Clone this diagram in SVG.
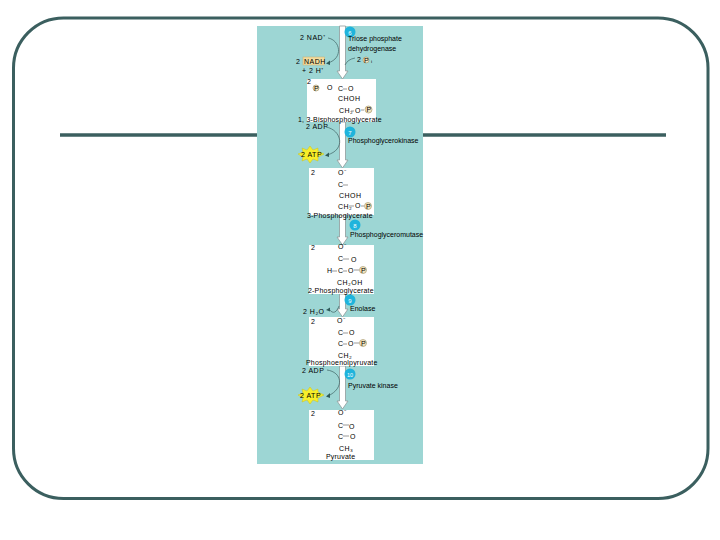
<svg xmlns="http://www.w3.org/2000/svg" width="720" height="540" viewBox="0 0 720 540">
<style>
text{font-family:"Liberation Sans",Arial,sans-serif;font-size:7px;fill:#000;letter-spacing:.5px}
text.enz{letter-spacing:0}
text.mol{letter-spacing:.2px}
.frame{fill:none;stroke:#3b5f5f;stroke-width:3}
.bar{stroke:#3b5f5f;stroke-width:3.5}
.box{fill:#fff}
.down{fill:#fff;stroke:#8f9a9a;stroke-width:.8}
.curve{fill:none;stroke:#4a7070;stroke-width:.8}
.head{fill:#2e5a5a}
.step{fill:#1fb4dc}
text.num{fill:#fff;font-size:6px;text-anchor:middle;letter-spacing:0}
.p{fill:#f4e6c0;stroke:#a89a70;stroke-width:.7}
.bond{stroke:#999;stroke-width:1}
.nadh{fill:#f3dc9e;stroke:#c9b478;stroke-width:.6}
.atp{fill:#f7ee2a;stroke:#c9c020;stroke-width:.5}
</style>
<rect class="frame" x="13.5" y="18" width="694.500" height="480.500" rx="50" ry="50"/>
<line class="bar" x1="60" y1="135" x2="257" y2="135"/>
<line class="bar" x1="423" y1="135" x2="666" y2="135"/>
<rect x="257" y="26" width="166" height="438" fill="#9dd6d4"/>
<g id="connectors">
<path class="down" d="M339.500 26V71H337L342.500 79L348 71H345.500V26Z"/>
<path class="down" d="M339.500 122V160H337L342.500 168L348 160H345.500V122Z"/>
<path class="down" d="M339.500 215V237H337L342.500 245L348 237H345.500V215Z"/>
<path class="down" d="M339.500 294V309H337L342.500 317L348 309H345.500V294Z"/>
<path class="down" d="M339.500 366V401H337L342.500 409L348 401H345.500V366Z"/>
<path class="curve" d="M328 38C340 40 344 58 328 63"/><path class="head" d="M326 63.500L330 60.500L330 65Z"/>
<path class="curve" d="M355 58C350 59 347 61 345 65"/>
<path class="curve" d="M326 127C342 130 346 150 327 155"/><path class="head" d="M325 155.500L329 152.500L329 157Z"/>
<path class="curve" d="M339 306C337 312 333 315 329 309"/><path class="head" d="M326 310L330 307.500L330 311.500Z"/>
<path class="curve" d="M327 370C342 372 345 388 328 396"/><path class="head" d="M326 396.500L330 393L330 398Z"/>
</g>
<g id="step6">
<circle class="step" cx="350" cy="32" r="5.500"/><text class="num" x="350" y="34.500">6</text>
<text class="enz" x="348" y="41">Triose phosphate</text>
<text class="enz" x="348" y="51">dehydrogenase</text>
<text x="300" y="40">2 NAD⁺</text>
<text x="296" y="64">2</text><rect class="nadh" x="303" y="57" width="21.500" height="8"/><text x="304" y="63.500">NADH</text>
<text x="302" y="73">+ 2 H⁺</text>
<text x="357" y="62">2</text><circle class="p" cx="366" cy="60" r="3"/><text x="364" y="62.500">P</text><text x="371" y="63">ᵢ</text>
</g>
<g id="bisphosphoglycerate">
<rect class="box" x="307" y="79" width="69" height="43"/>
<text x="307" y="84">2</text>
<circle class="p" cx="316" cy="88" r="3"/><text x="314" y="90.500">P</text><text x="327" y="90">O</text>
<text x="338" y="91">C</text><line class="bond" x1="343" y1="89" x2="347" y2="89"/><text x="348" y="91">O</text>
<text x="338" y="101">CHOH</text>
<text x="339" y="113">CH₂</text><line class="bond" x1="351" y1="111" x2="354" y2="111"/><text x="355" y="113">O</text><line class="bond" x1="361" y1="110" x2="364" y2="110"/>
<circle class="p" cx="368.500" cy="109.500" r="3.500"/><text x="366.500" y="112">P</text>
<text class="mol" x="298" y="122">1, 3-Bisphosphoglycerate</text>
</g>
<g id="step7">
<text x="306" y="129">2 ADP</text>
<circle class="step" cx="350" cy="132" r="5.500"/><text class="num" x="350" y="134.500">7</text>
<text class="enz" x="348" y="143">Phosphoglycerokinase</text>
<path class="atp" d="M298 154L303 152L302 148L307 150L310 146L313 150L318 148L318 151L324 154L318 157L318 161L313 159L310 163L307 159L302 161L303 157Z"/>
<text x="301" y="156.500">2 ATP</text>
</g>
<g id="phosphoglycerate3">
<rect class="box" x="309" y="168" width="65" height="47"/>
<text x="311" y="175">2</text>
<text x="338" y="175">O⁻</text>
<text x="338" y="187">C</text><line class="bond" x1="343" y1="185" x2="348" y2="185"/>
<text x="339" y="198">CHOH</text>
<text x="338" y="209">CH₂</text><line class="bond" x1="349" y1="206" x2="354" y2="206"/><text x="355" y="208">O</text><line class="bond" x1="361" y1="206" x2="364" y2="206"/>
<circle class="p" cx="368" cy="206" r="3.500"/><text x="366" y="208.500">P</text>
<text class="mol" x="307" y="218">3-Phosphoglycerate</text>
</g>
<g id="step8">
<circle class="step" cx="355" cy="225" r="5.500"/><text class="num" x="355" y="227.500">8</text>
<text class="enz" x="350" y="237">Phosphoglyceromutase</text>
</g>
<g id="phosphoglycerate2">
<rect class="box" x="309" y="245" width="65" height="49"/>
<text x="311" y="250">2</text>
<text x="338" y="249">O⁻</text>
<text x="338" y="261">C</text><line class="bond" x1="343" y1="259" x2="349" y2="259"/><text x="351" y="262">O</text>
<text x="327" y="273">H</text><line class="bond" x1="332" y1="271" x2="337" y2="271"/><text x="338" y="273">C</text><line class="bond" x1="343" y1="271" x2="347" y2="271"/><text x="348" y="273">O</text><line class="bond" x1="354" y1="270" x2="359" y2="270"/>
<circle class="p" cx="363" cy="270" r="3.500"/><text x="361" y="272.500">P</text>
<text x="337" y="285">CH₂OH</text>
<text class="mol" x="308" y="293">2-Phosphoglycerate</text>
</g>
<g id="step9">
<circle class="step" cx="350" cy="300" r="5.500"/><text class="num" x="350" y="302.500">9</text>
<text x="303" y="314">2 H₂O</text>
<text class="enz" x="350" y="311">Enolase</text>
</g>
<g id="phosphoenolpyruvate">
<rect class="box" x="309" y="317" width="65" height="49"/>
<text x="311" y="324">2</text>
<text x="337" y="323">O⁻</text>
<text x="338" y="335">C</text><line class="bond" x1="343" y1="333" x2="348" y2="333"/><text x="349" y="335">O</text>
<text x="338" y="346">C</text><line class="bond" x1="343" y1="344" x2="347" y2="344"/><text x="348" y="346">O</text><line class="bond" x1="354" y1="343" x2="359" y2="343"/>
<circle class="p" cx="363" cy="343" r="3.500"/><text x="361" y="345.500">P</text>
<text x="338" y="358">CH₂</text>
<text class="mol" x="306" y="365">Phosphoenolpyruvate</text>
</g>
<g id="step10">
<text x="302" y="373">2 ADP</text>
<circle class="step" cx="350" cy="374" r="5.500"/><text class="num" x="350" y="376.500" style="font-size:5.500px">10</text>
<text class="enz" x="348" y="388">Pyruvate kinase</text>
<path class="atp" d="M298 395L303 393L302 389L307 391L310 387L313 391L318 389L318 392L324 395L318 398L318 402L313 400L310 404L307 400L302 402L303 398Z"/>
<text x="300" y="397.500">2 ATP</text>
</g>
<g id="pyruvate">
<rect class="box" x="309" y="410" width="65" height="50"/>
<text x="311" y="416">2</text>
<text x="338" y="415">O⁻</text>
<text x="338" y="428">C</text><line class="bond" x1="343" y1="425" x2="349" y2="425"/><text x="349" y="429">O</text>
<text x="338" y="439">C</text><line class="bond" x1="343" y1="436" x2="349" y2="436"/><text x="350" y="439">O</text>
<text x="339" y="451">CH₃</text>
<text class="mol" x="326" y="459">Pyruvate</text>
</g>
</svg>
